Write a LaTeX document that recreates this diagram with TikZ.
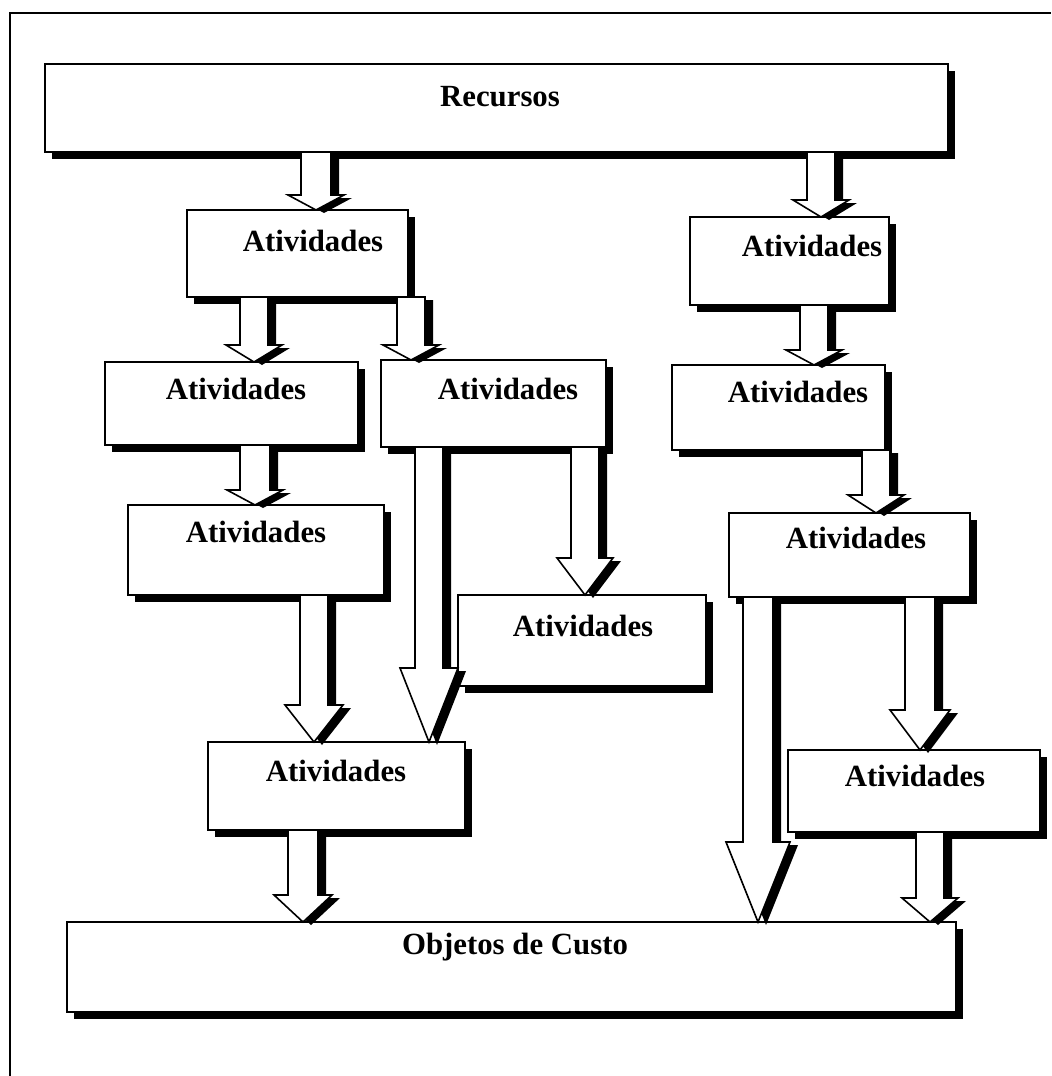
\documentclass[tikz,border=0pt]{standalone}
\usepackage{fontspec}
\setmainfont{Liberation Serif}
\usetikzlibrary{calc,shadows}

% one drawing unit
\newcommand{\pxu}{0.5pt}

% outline of a hollow block arrow; needs \y1 (start) and \y2 (tip) from a let
% #1 shaft centre x, #2 head base y, #3 shaft half width, #4 head half width, #5/#6 offset
\newcommand{\arrowoutline}[6]{%
  ({(#1-#3)*\pxu+(#5)},{\y1+(#6)}) --
  ({(#1-#3)*\pxu+(#5)},{-#2*\pxu+(#6)}) --
  ({(#1-#4)*\pxu+(#5)},{-#2*\pxu+(#6)}) --
  ({#1*\pxu+(#5)},{\y2+(#6)}) --
  ({(#1+#4)*\pxu+(#5)},{-#2*\pxu+(#6)}) --
  ({(#1+#3)*\pxu+(#5)},{-#2*\pxu+(#6)}) --
  ({(#1+#3)*\pxu+(#5)},{\y1+(#6)}) -- cycle}

% block arrow from the bottom of one box to the top of another, with its shadow
\newcommand{\blockarrow}[6]{%
  \fill[arrowshade] let \p1=(#1.south), \p2=(#2.north) in
    \arrowoutline{#3}{#4}{#5}{#6}{4pt}{-1.5pt};
  \filldraw[arrowbody] let \p1=(#1.south), \p2=(#2.north) in
    \arrowoutline{#3}{#4}{#5}{#6}{0pt}{0pt};
}

% box given by its corners
\newcommand{\abox}[5]{%
  \node[boxst, minimum width={(#4-#2)*\pxu}, minimum height={(#5-#3)*\pxu}]
    (#1) at ({(#2+#4)/2},{(#3+#5)/2}) {};
}

\begin{document}
\begin{tikzpicture}[x=0.5pt, y=-0.5pt,
  boxst/.style={draw=black, fill=white, line width=1pt, inner sep=0pt, outer sep=0pt,
    drop shadow={fill=black, opacity=1, shadow xshift=3.5pt, shadow yshift=-3.5pt}},
  arrowbody/.style={fill=white, draw=black, line width=0.8pt, line join=miter},
  arrowshade/.style={fill=black},
  txt/.style={font=\fontsize{15.4}{18}\selectfont\bfseries, inner sep=0pt},
  frameline/.style={draw=black, line width=1pt}]

\useasboundingbox (0,0) rectangle (1051,1076);

% page frame
\draw[frameline] (10,1076) -- (10,13) -- (1051,13);

% boxes
\abox{res}{45}{64}{948}{152}
\abox{a1}{187}{210}{408}{297}
\abox{a2}{690}{217}{889}{305}
\abox{a3}{105}{362}{358}{445}
\abox{a4}{381}{360}{606}{447}
\abox{a5}{672}{365}{885}{450}
\abox{a6}{128}{505}{384}{595}
\abox{a7}{729}{513}{970}{597}
\abox{a8}{458}{595}{706}{686}
\abox{a9}{208}{742}{465}{830}
\abox{a10}{788}{750}{1040}{832}
\abox{obj}{67}{922}{956}{1012}

% labels
\node[txt] (rest) at (500,97) {Recursos};
\node[txt] (a1t) at (313,241) {Atividades};
\node[txt] (a2t) at (812,246) {Atividades};
\node[txt] (a3t) at (236,389) {Atividades};
\node[txt] (a4t) at (508,389) {Atividades};
\node[txt] (a5t) at (798,392) {Atividades};
\node[txt] (a6t) at (256,532) {Atividades};
\node[txt] (a7t) at (856,538) {Atividades};
\node[txt] (a8t) at (583,626) {Atividades};
\node[txt] (a9t) at (336,771) {Atividades};
\node[txt] (a10t) at (915,776) {Atividades};
\node[txt] (objt) at (515,947) {Objetos de Custo};

% arrows
\blockarrow{res}{a1}{316}{195}{15}{28}
\blockarrow{res}{a2}{821}{200}{14}{28}
\blockarrow{a1}{a3}{254}{345}{14}{28}
\blockarrow{a1}{a4}{411}{345}{14}{28}
\blockarrow{a2}{a5}{814}{350}{14}{28}
\blockarrow{a3}{a6}{255}{490}{15}{28}
\blockarrow{a5}{a7}{876}{495}{14}{28}
\blockarrow{a4}{a8}{585}{558}{14}{28}
\blockarrow{a4}{a9}{429}{668}{14}{29}
\blockarrow{a6}{a9}{314}{705}{14}{29}
\blockarrow{a7}{obj}{758}{842}{15}{32}
\blockarrow{a7}{a10}{920}{710}{15}{30}
\blockarrow{a9}{obj}{303}{895}{15}{29}
\blockarrow{a10}{obj}{930}{898}{14}{28}

\end{tikzpicture}
\end{document}
